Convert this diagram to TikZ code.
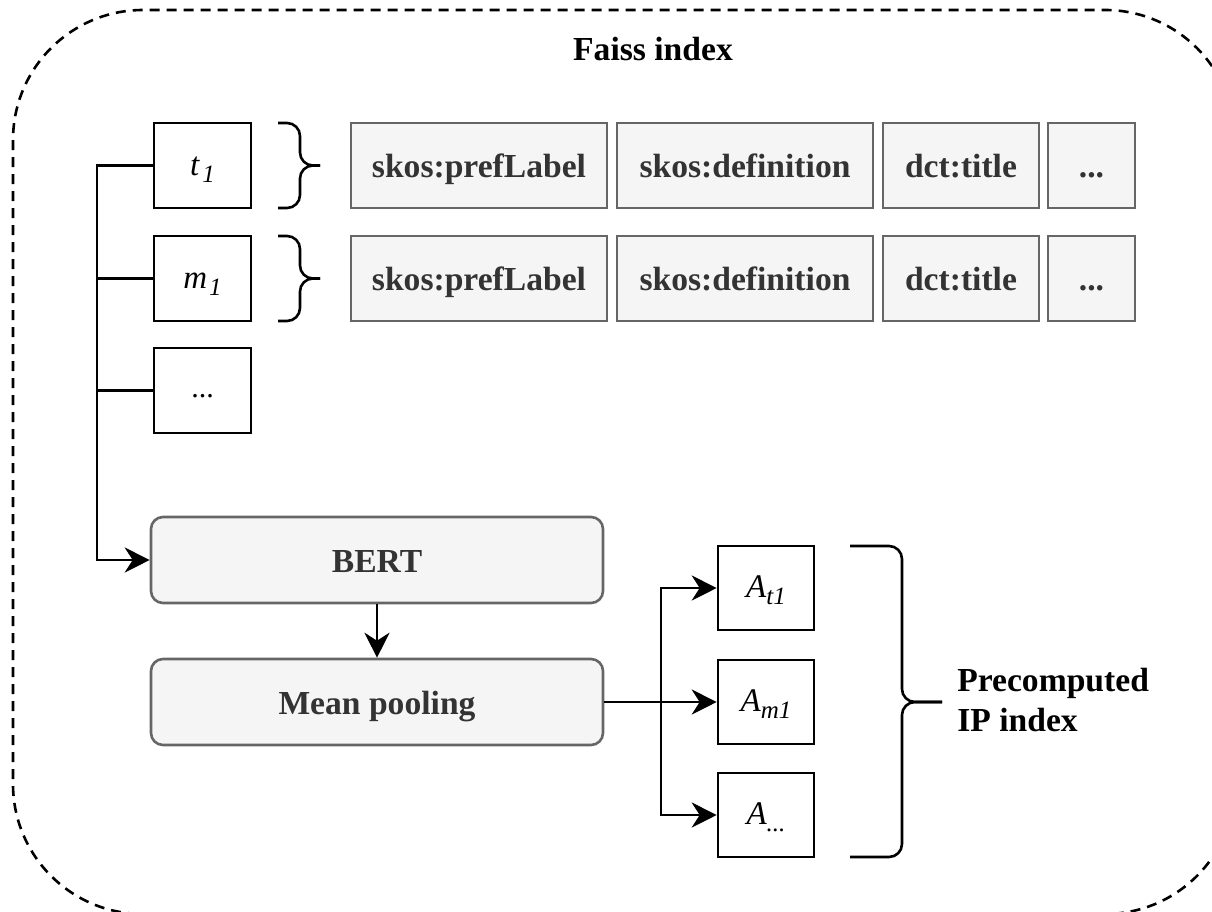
\documentclass[tikz,border=0pt]{standalone}
\usepackage{fontspec}
\setmainfont{Liberation Serif}
\usetikzlibrary{arrows.meta}

\definecolor{boxfill}{HTML}{F5F5F5}
\definecolor{boxline}{HTML}{666666}
\definecolor{boxtext}{HTML}{333333}

% font helpers
\newcommand\bflabel{\fontsize{33.6}{40}\selectfont\bfseries}
\newcommand\itlabel{\fontsize{33}{38}\selectfont\itshape}
\newcommand\lowsub[1]{\raisebox{-7pt}{\fontsize{25}{25}\selectfont #1}}

\begin{document}
\begin{tikzpicture}[x=1pt, y=-1pt, line width=2.6pt,
  item/.style={draw=black, fill=white, minimum width=97pt, minimum height=85pt,
    inner sep=0pt, font=\itlabel, text height=19pt, text depth=0pt},
  prop/.style={draw=boxline, fill=boxfill, text=boxtext, minimum height=85pt,
    inner sep=0pt, font=\bflabel, text height=24pt, text depth=0pt},
  stage/.style={prop, rounded corners=12pt, minimum width=452pt, minimum height=86pt},
  link/.style={-{Stealth[length=25pt, width=25pt, inset=8pt]}},
  curly/.style={rounded corners=13pt},
  frame/.style={dash pattern=on 10pt off 7pt, rounded corners=130pt}
]
\useasboundingbox (0,0) rectangle (1212,911);

% dashed index frame, running off the page on the right and bottom
\begin{scope}
  \clip (0,0) rectangle (1212,911);
  \draw[frame] (13,10) rectangle (1235,914);
\end{scope}
\node[font=\bflabel, anchor=base] (title) at (653,60) {Faiss index};

% concepts and their properties
\node[item] (t1) at (202.5,165.5) {t\kern3pt\lowsub{1}};
\node[item] (m1) at (202.5,278.5) {m\kern2pt\lowsub{1}};
\node[item, text height=14pt, font=\fontsize{30}{36}\selectfont] (more) at (202.5,390.5) {...};

\node[prop, minimum width=256pt] (tpref) at (479,165.5) {skos:prefLabel};
\node[prop, minimum width=256pt] (tdef)  at (745,165.5) {skos:definition};
\node[prop, minimum width=156pt] (ttit)  at (961,165.5) {dct:title};
\node[prop, minimum width=87pt]  (tdots) at (1091.5,165.5) {...};

\node[prop, minimum width=256pt] (mpref) at (479,278.5) {skos:prefLabel};
\node[prop, minimum width=256pt] (mdef)  at (745,278.5) {skos:definition};
\node[prop, minimum width=156pt] (mtit)  at (961,278.5) {dct:title};
\node[prop, minimum width=87pt]  (mdots) at (1091.5,278.5) {...};

% braces grouping each concept's properties
\draw[curly] (278,123) -- (300,123) -- (300,165.5) -- (320,165.5);
\draw[curly] (278,208) -- (300,208) -- (300,165.5) -- (320,165.5);
\draw[curly] (278,236) -- (300,236) -- (300,278.5) -- (320,278.5);
\draw[curly] (278,321) -- (300,321) -- (300,278.5) -- (320,278.5);

% encoder pipeline
\node[stage] (bert) at (377,560) {BERT};
\node[stage] (mean) at (377,702) {Mean pooling};

\coordinate (trunk) at (97,165.5);
\draw[link] (t1.west) -- (trunk) |- (bert.west);
\draw (m1.west) -- (m1.west -| trunk);
\draw (more.west) -- (more.west -| trunk);
\draw[link] (bert.south) -- (mean.north);

% precomputed vectors
\node[item, minimum width=96pt, minimum height=84pt] (at) at (766,588) {A\lowsub{t1}};
\node[item, minimum width=96pt, minimum height=84pt] (am) at (766,702) {A\lowsub{m1}};
\node[item, minimum width=96pt, minimum height=84pt] (ad) at (766,815) {A\lowsub{...}};

\coordinate (fork) at (661,702);
\draw[link] (mean.east) -- (am.west);
\draw[link] (fork) |- (at.west);
\draw[link] (fork) |- (ad.west);

% brace and label for the IP index
\draw[curly] (850,546) -- (902,546) -- (902,702) -- (942,702);
\draw[curly] (850,857) -- (902,857) -- (902,702) -- (942,702);
\node[font=\bflabel, align=left, anchor=west, inner sep=0pt] (ipindex) at (956,700)
  {Precomputed\\IP index};
\end{tikzpicture}
\end{document}
